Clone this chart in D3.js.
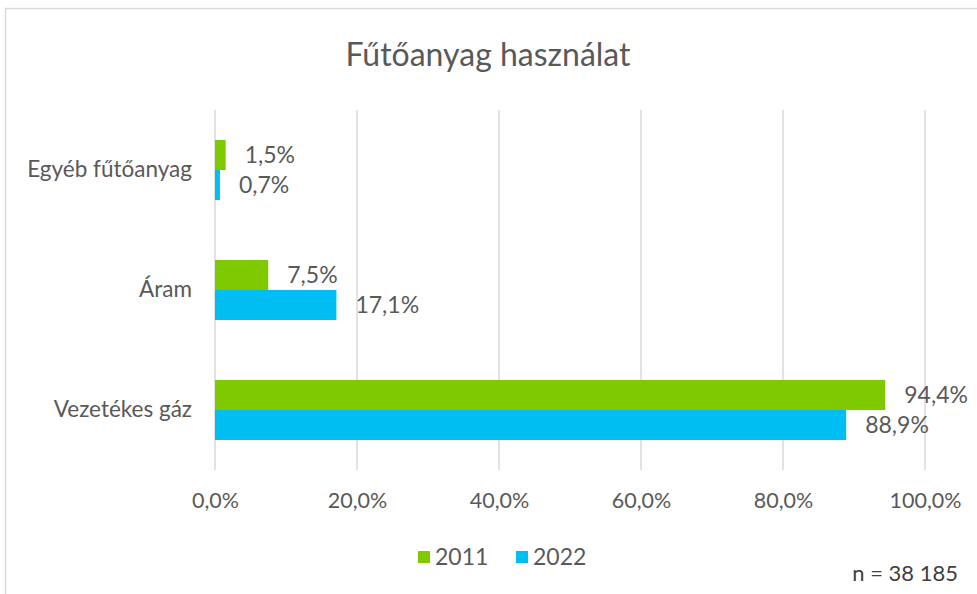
<!DOCTYPE html>
<html>
<head>
<meta charset="utf-8">
<script src="https://cdn.jsdelivr.net/npm/d3@7"></script>
<style>
  html, body { margin: 0; padding: 0; background: #fff; }
  svg { display: block; font-family: Lato, "Open Sans", sans-serif; }
</style>
</head>
<body>
<div id="chart"></div>
<script>
const categories = ['Egyéb fűtőanyag', 'Áram', 'Vezetékes gáz'];
const series = ['2011', '2022'];
const values2011 = [1.5, 7.5, 94.4];
const values2022 = [0.7, 17.1, 88.9];
const xTicks = [0, 20, 40, 60, 80, 100];
const colors = ['#7fc900', '#00bef2'];

const width = 977, height = 594;
const margin = { top: 110, right: 52, bottom: 124, left: 215 };
const fmt = v => d3.format('.1f')(v).replace('.', ',') + '%';

const svg = d3.select('#chart').append('svg')
  .attr('width', width)
  .attr('height', height);

// chart frame
svg.append('rect')
  .attr('x', 5.5).attr('y', 8.5)
  .attr('width', width + 10).attr('height', height)
  .attr('fill', 'none').attr('stroke', '#d9d9d9').attr('stroke-width', 1.5);

svg.append('text')
  .attr('x', 488).attr('y', 66)
  .attr('text-anchor', 'middle')
  .attr('font-size', 32)
  .attr('fill', '#595959')
  .text('Fűtőanyag használat');

const x = d3.scaleLinear()
  .domain([0, 100])
  .range([margin.left, 925]);

const y = d3.scaleBand()
  .domain(categories)
  .range([margin.top, height - margin.bottom])
  .paddingInner(0.5)
  .paddingOuter(0.25);

const y1 = d3.scaleBand()
  .domain(series)
  .range([0, y.bandwidth()]);

// gridlines
svg.append('g')
  .selectAll('line')
  .data(xTicks)
  .join('line')
  .attr('x1', d => x(d)).attr('x2', d => x(d))
  .attr('y1', margin.top).attr('y2', height - margin.bottom)
  .attr('stroke', '#d9d9d9').attr('stroke-width', 1.5);

// x tick labels
const xAxis = svg.append('g')
  .attr('transform', `translate(0,${height - margin.bottom})`)
  .call(d3.axisBottom(x).tickValues(xTicks).tickSize(0).tickPadding(23).tickFormat(fmt));
xAxis.select('.domain').remove();
xAxis.selectAll('text')
  .attr('font-size', 21.5)
  .attr('font-family', 'Lato, "Open Sans", sans-serif')
  .attr('fill', '#595959');

// y labels
const yAxis = svg.append('g')
  .attr('transform', `translate(${margin.left},0)`)
  .call(d3.axisLeft(y).tickSize(0).tickPadding(23));
yAxis.select('.domain').remove();
yAxis.selectAll('text')
  .attr('font-size', 22.5)
  .attr('font-family', 'Lato, "Open Sans", sans-serif')
  .attr('fill', '#595959');

const rows = categories.map((c, i) => ({
  category: c,
  items: [
    { key: series[0], value: values2011[i], color: colors[0] },
    { key: series[1], value: values2022[i], color: colors[1] }
  ]
}));

const groups = svg.append('g')
  .selectAll('g')
  .data(rows)
  .join('g')
  .attr('transform', d => `translate(0,${y(d.category)})`);

groups.selectAll('rect')
  .data(d => d.items)
  .join('rect')
  .attr('x', x(0))
  .attr('y', d => y1(d.key))
  .attr('width', d => x(d.value) - x(0))
  .attr('height', y1.bandwidth())
  .attr('fill', d => d.color);

groups.selectAll('text')
  .data(d => d.items)
  .join('text')
  .attr('y', d => y1(d.key) + y1.bandwidth() / 2)
  .attr('dy', '0.35em')
  .attr('font-size', 23)
  .attr('fill', '#595959')
  .text(d => fmt(d.value))
  .attr('x', function(d) {
    const w = this.getComputedTextLength();
    return Math.min(x(d.value) + 19, width - 6 - w);
  });

// legend
const legend = svg.append('g')
  .attr('transform', 'translate(418,557)');
const li = legend.selectAll('g')
  .data(series)
  .join('g')
  .attr('transform', (d, i) => `translate(${i * 98},0)`);
li.append('rect')
  .attr('x', 0).attr('y', -6)
  .attr('width', 12).attr('height', 12)
  .attr('fill', (d, i) => colors[i]);
li.append('text')
  .attr('x', 17).attr('y', 0)
  .attr('dy', '0.35em')
  .attr('font-size', 23)
  .attr('fill', '#595959')
  .text(d => d);

svg.append('text')
  .attr('x', 958).attr('y', 581)
  .attr('text-anchor', 'end')
  .attr('font-size', 22)
  .attr('fill', '#404040')
  .text('n = 38 185');
</script>
</body>
</html>
